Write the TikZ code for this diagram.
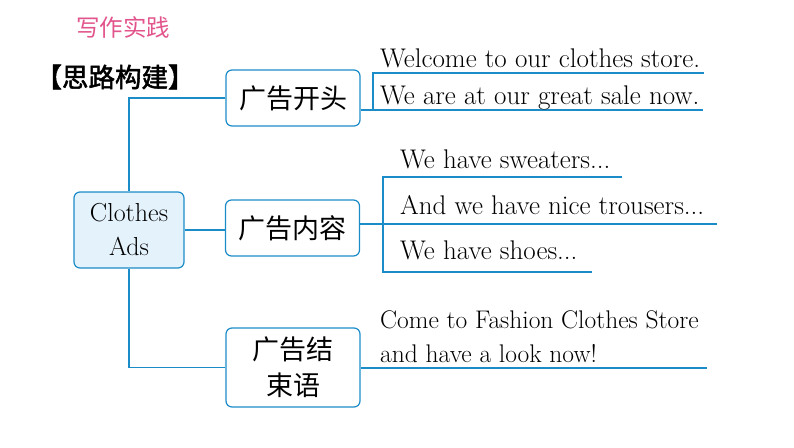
\documentclass[tikz,border=0pt]{standalone}
\usepackage{fontspec}
\usetikzlibrary{positioning}
\newfontfamily\cjk{Noto Sans CJK SC}
\newfontfamily\cjkbf[FakeBold=2]{Noto Sans CJK SC}
\definecolor{mapblue}{HTML}{1C8CC8}
\definecolor{pale}{HTML}{E4F2FB}
\definecolor{rose}{HTML}{E2558C}
\tikzset{topic/.style={draw=mapblue,fill=white,rounded corners=6pt,line width=1.2pt,align=center,
  minimum width=134pt,minimum height=56pt,font=\fontsize{27}{36}\selectfont\cjk,inner sep=2pt},
  sent/.style={anchor=base west,inner sep=0pt,font=\fontsize{27}{30}\selectfont},
  link/.style={draw=mapblue,line width=1.4pt}}

\begin{document}
\begin{tikzpicture}[x=1pt,y=-1pt]
\useasboundingbox (0,0) rectangle (794,447);
\node[font=\fontsize{23.5}{26}\selectfont\cjk,text=rose] (title) at (123,27) {写作实践};
\node[font=\fontsize{26.5}{28}\selectfont\cjkbf] (head) at (115,77) {【思路构建】};
% branches
\node[topic,fill=pale,minimum width=110pt,minimum height=76pt,font=\fontsize{26}{34}\selectfont] (ads) at (129,230) {Clothes\\Ads};
\node[topic] (open) at (293,98) {广告开头};
\node[topic] (body) at (292.5,228) {广告内容};
\node[topic,minimum height=79pt] (close) at (293,367.5) {广告结\\束语};
\draw[link] (open.west) -| (ads.north);
\draw[link] (close.west) -| (ads.south);
\draw[link] (ads.east) -- (ads.east -| body.west);
% opening
\coordinate (o1) at (373,73);
\coordinate (o2) at (373,110);
\draw[link] (open.east |- o2) -- (703,110);
\draw[link] (o2) -- (o1) -- (704,73);
\node[sent] (s1) at (380,67) {Welcome to our clothes store.};
\node[sent] (s2) at (380,104) {We are at our great sale now.};
% body
\coordinate (b1) at (383,177);
\coordinate (b3) at (383,272);
\draw[link] (body.east |- 0,224) -- (717,224);
\draw[link] (622,177) -- (b1) -- (b3) -- (592,272);
\node[sent] (s3) at (400,168) {We have sweaters...};
\node[sent] (s4) at (400,214) {And we have nice trousers...};
\node[sent] (s5) at (400,259) {We have shoes...};
% ending
\draw[link] (close.east |- 0,368) -- (707,368);
\node[sent,font=\fontsize{25.5}{30}\selectfont] (s6) at (380,328) {Come to Fashion Clothes Store};
\node[sent,font=\fontsize{25.5}{30}\selectfont] (s7) at (380,362) {and have a look now!};
\end{tikzpicture}
\end{document}
